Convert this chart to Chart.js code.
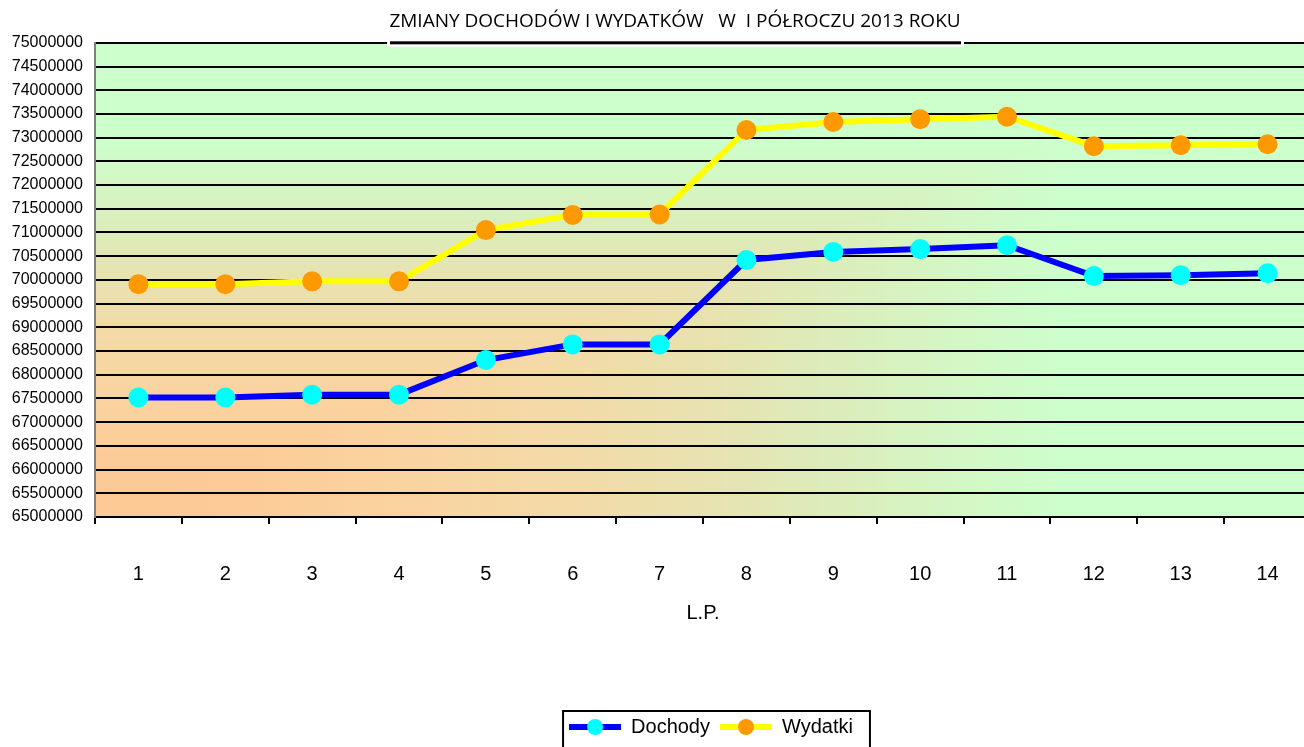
<!DOCTYPE html>
<html lang="pl">
<head>
  <meta charset="UTF-8">
  <title>Zmiany dochodów i wydatków</title>
  <script src="https://cdn.jsdelivr.net/npm/chart.js"></script>
  <style>
    html, body { margin: 0; padding: 0; overflow: hidden; background: #fff; }
    canvas { display: block; }
  </style>
</head>
<body>
  <canvas id="chart" width="1304" height="747"></canvas>

  <script>
    // dane
    const labels = ['1', '2', '3', '4', '5', '6', '7', '8', '9', '10', '11', '12', '13', '14'];
    const dochody = [67520000, 67520000, 67580000, 67580000, 68310000, 68640000, 68640000,
                     70420000, 70590000, 70650000, 70730000, 70080000, 70100000, 70140000];
    const wydatki = [69910000, 69910000, 69970000, 69970000, 71050000, 71370000, 71380000,
                     73160000, 73330000, 73390000, 73440000, 72820000, 72840000, 72860000];
    const yMin = 65000000;
    const yMax = 75000000;
    const yStep = 500000;

    // ikonka legendy: linia + kółko
    function legendIcon(lineColor, dotColor) {
      const c = document.createElement('canvas');
      c.width = 52; c.height = 20;
      const g = c.getContext('2d');
      g.fillStyle = lineColor;
      g.fillRect(0, 7, 52, 6);
      g.fillStyle = dotColor;
      g.beginPath();
      g.arc(26, 10, 8, 0, Math.PI * 2);
      g.fill();
      return c;
    }
    const iconD = legendIcon('#0000ff', '#00ffff');
    const iconW = legendIcon('#ffff00', '#ff9900');

    function addStops(g) {
      g.addColorStop(0, '#fdc995');
      g.addColorStop(0.12, '#fccb97');
      g.addColorStop(0.25, '#fad39f');
      g.addColorStop(0.4, '#f2dba8');
      g.addColorStop(0.5, '#e8e2b0');
      g.addColorStop(0.6, '#dcecba');
      g.addColorStop(0.7, '#d4f6c4');
      g.addColorStop(0.8, '#ccffcc');
      g.addColorStop(1, '#ccffcc');
      return g;
    }

    // tło obszaru wykresu, przesunięcia legendy i tytułu, ramka legendy
    const decor = {
      id: 'decor',
      afterLayout(chart) {
        chart.legend.left += 59;
        chart.legend.right += 59;
        chart.titleBlock.left += 23;
        chart.titleBlock.right += 23;
        // obszar wykresu wychodzi lekko poza prawą krawędź (jak w oryginale)
        const xs = chart.scales.x;
        xs.right = 1311;
        xs.width = xs.right - xs.left;
        xs.configure();
        chart.chartArea.right = 1311;
        chart.chartArea.width = chart.chartArea.right - chart.chartArea.left;
      },
      beforeDraw(chart) {
        const { ctx, chartArea: a } = chart;
        // gradient "od rogu" (lewy dolny), prostokątny
        ctx.save();
        ctx.beginPath();
        ctx.moveTo(a.left, a.bottom);
        ctx.lineTo(a.right, a.bottom);
        ctx.lineTo(a.right, a.top);
        ctx.closePath();
        ctx.clip();
        ctx.fillStyle = addStops(ctx.createLinearGradient(a.left, 0, a.right, 0));
        ctx.fillRect(a.left, a.top, a.width, a.height);
        ctx.restore();
        ctx.save();
        ctx.beginPath();
        ctx.moveTo(a.left, a.bottom + 1);
        ctx.lineTo(a.left, a.top);
        ctx.lineTo(a.right + 1, a.top);
        ctx.closePath();
        ctx.clip();
        ctx.fillStyle = addStops(ctx.createLinearGradient(0, a.bottom, 0, a.top));
        ctx.fillRect(a.left, a.top, a.width, a.height);
        ctx.restore();
      },
      afterDraw(chart) {
        const { ctx } = chart;
        const boxes = chart.legend.legendHitBoxes;
        if (boxes && boxes.length) {
          const l = Math.min(...boxes.map(b => b.left)) - 6;
          const r = Math.max(...boxes.map(b => b.left + b.width)) + 17;
          ctx.save();
          ctx.strokeStyle = '#000';
          ctx.lineWidth = 2;
          ctx.strokeRect(l, chart.legend.top + 4, r - l, 60);
          ctx.restore();
        }
        // biała ramka tytułu na górnej krawędzi
        const t = chart.chartArea.top;
        ctx.save();
        ctx.fillStyle = '#fff';
        ctx.fillRect(387, t - 4, 577, 8);
        ctx.fillStyle = '#000';
        ctx.fillRect(390, t - 1.5, 571, 3);
        ctx.restore();
      }
    };

    new Chart(document.getElementById('chart'), {
      type: 'line',
      data: {
        labels: labels,
        datasets: [
          {
            label: 'Dochody',
            data: dochody,
            borderColor: '#0000ff',
            backgroundColor: '#00ffff',
            pointBackgroundColor: '#00ffff',
            pointBorderWidth: 0,
            pointRadius: 10,
            pointHoverRadius: 10,
            borderWidth: 6,
            tension: 0
          },
          {
            label: 'Wydatki',
            data: wydatki,
            borderColor: '#ffff00',
            backgroundColor: '#ff9900',
            pointBackgroundColor: '#ff9900',
            pointBorderWidth: 0,
            pointRadius: 10,
            pointHoverRadius: 10,
            borderWidth: 6,
            tension: 0
          }
        ]
      },
      options: {
        responsive: false,
        animation: false,
        layout: { padding: { left: 0, right: 0, top: 0, bottom: 0 } },
        plugins: {
          title: {
            display: true,
            text: 'ZMIANY DOCHODÓW I WYDATKÓW   W  I PÓŁROCZU 2013 ROKU',
            color: '#000',
            font: { family: '"Open Sans", sans-serif', size: 19, weight: 'normal' },
            padding: { top: 10, bottom: 10 }
          },
          legend: {
            position: 'bottom',
            labels: {
              color: '#000',
              font: { family: '"Liberation Sans", Arial, sans-serif', size: 20 },
              usePointStyle: true,
              pointStyleWidth: 52,
              boxHeight: 20,
              padding: 10,
              generateLabels: () => [
                { text: 'Dochody', pointStyle: iconD, fillStyle: '#00ffff', strokeStyle: '#0000ff', lineWidth: 0, datasetIndex: 0, fontColor: '#000' },
                { text: 'Wydatki', pointStyle: iconW, fillStyle: '#ff9900', strokeStyle: '#ffff00', lineWidth: 0, datasetIndex: 1, fontColor: '#000' }
              ]
            }
          },
          tooltip: { enabled: false }
        },
        scales: {
          x: {
            offset: true,
            grid: {
              offset: true,
              drawOnChartArea: false,
              drawTicks: true,
              tickLength: 7,
              color: '#000',
              lineWidth: 2
            },
            border: { color: '#000', width: 2 },
            ticks: {
              color: '#000',
              padding: 38,
              maxRotation: 0,
              font: { family: '"Liberation Sans", Arial, sans-serif', size: 20 }
            },
            title: {
              display: true,
              text: 'L.P.',
              color: '#000',
              padding: { top: 6, bottom: 82 },
              font: { family: '"Liberation Sans", Arial, sans-serif', size: 20 }
            },
            afterFit(scale) { scale.height = 190; }
          },
          y: {
            min: yMin,
            max: yMax,
            grid: {
              color: '#000',
              lineWidth: 2,
              drawTicks: false
            },
            border: { color: '#808080', width: 2 },
            ticks: {
              stepSize: yStep,
              color: '#000',
              padding: 12,
              font: { family: '"Liberation Sans", Arial, sans-serif', size: 16 },
              callback: v => String(v)
            },
            afterFit(scale) { scale.width = 95; }
          }
        }
      },
      plugins: [decor]
    });
  </script>
</body>
</html>
